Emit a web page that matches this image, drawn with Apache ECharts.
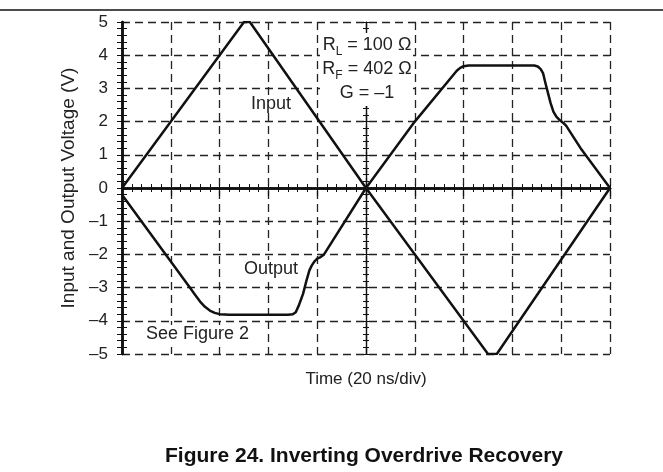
<!DOCTYPE html>
<html>
<head>
<meta charset="utf-8">
<script src="https://cdn.jsdelivr.net/npm/echarts@6/dist/echarts.min.js"></script>
<style>
  html, body { margin: 0; padding: 0; background: #fff; }
  #main { width: 663px; height: 472px; }
</style>
</head>
<body>
<div id="main"></div>
<script>
// time in divisions (20 ns/div), voltage in V
var inputTime = [0, 2.5, 2.62, 5, 7.5, 7.68, 10];
var inputVolt = [0, 5, 5, 0, -5, -5, 0];

var outputTime = [0, 1.39, 1.5, 1.6, 1.7, 1.8, 1.9, 2.0, 2.2, 3.4, 3.5, 3.56, 3.62, 3.67, 3.71, 3.78, 3.84, 3.89, 3.95, 4.0, 4.07, 4.14, 5,
  6, 6.86, 6.93, 7.0, 7.1, 8.45, 8.52, 8.58, 8.63, 8.67, 8.71, 8.78, 8.84, 8.9, 8.98, 9.05, 9.1, 9.42, 10];
var outputVolt = [-0.2, -3.0, -3.22, -3.42, -3.58, -3.69, -3.76, -3.8, -3.82, -3.82, -3.8, -3.74, -3.55, -3.35, -3.19, -2.79, -2.48, -2.33, -2.2, -2.13, -2.08, -2.0, 0,
  2, 3.53, 3.62, 3.67, 3.69, 3.69, 3.66, 3.58, 3.45, 3.2, 2.97, 2.57, 2.3, 2.15, 2.03, 1.95, 1.88, 1.15, 0];

var timeRange = [0, 10];
var voltRange = [-5, 5];
var crossRange = [-5, 5];

function pairs(xs, ys) {
  return xs.map(function (x, i) { return [x, ys[i]]; });
}
function dashLabel(v) {
  return v < 0 ? "\u2013" + Math.abs(v) : String(v);
}

var ink = "#111";
var txt = "#222";
var font = "Liberation Sans, Arial, sans-serif";
var gridBox = { left: 122, top: 22, width: 488, height: 332 };
var dashed = { color: "#222", width: 1.3, type: [8, 5] };

// axis that only draws fine ticks (every 0.2 div / 0.2 V)
function tickAxis(grid, pos, range, opts) {
  return Object.assign({
    gridIndex: grid, type: "value", position: pos,
    min: range[0], max: range[1], interval: 0.2,
    axisLine: { show: false },
    axisTick: { show: true, inside: true, length: 4, lineStyle: { color: ink, width: 1 } },
    axisLabel: { show: false },
    splitLine: { show: false }
  }, opts || {});
}

var chart = echarts.init(document.getElementById("main"));
chart.setOption({
  animation: false,
  grid: [0, 1, 2, 3, 4].map(function () { return Object.assign({}, gridBox); }),
  xAxis: [
    {
      // bottom frame: major ticks outward, dashed grid
      gridIndex: 0, type: "value", position: "bottom",
      min: timeRange[0], max: timeRange[1], interval: 1,
      axisLine: { lineStyle: { color: ink, width: 2.5 } },
      axisTick: { show: true, length: 8, lineStyle: { color: ink, width: 1.2 } },
      axisLabel: { show: false },
      splitLine: { show: true, lineStyle: dashed },
      name: "Time (20 ns/div)", nameLocation: "middle", nameGap: 17,
      nameTextStyle: { color: txt, fontSize: 17, fontFamily: font }
    },
    tickAxis(1, "top", timeRange, { axisLine: { lineStyle: { color: ink, width: 2.5 } } }),
    tickAxis(2, "bottom", timeRange),
    tickAxis(3, "bottom", crossRange, {
      axisLine: { onZero: true, lineStyle: { color: ink, width: 1.2 } },
      axisTick: { show: true, inside: true, length: 3, lineStyle: { color: ink, width: 1 } }
    }),
    tickAxis(4, "bottom", crossRange, {
      axisLine: { onZero: true, lineStyle: { color: ink, width: 1.2 } },
      axisTick: { show: true, inside: false, length: 3, lineStyle: { color: ink, width: 1 } }
    })
  ],
  yAxis: [
    {
      gridIndex: 0, type: "value", position: "left",
      min: voltRange[0], max: voltRange[1], interval: 1,
      axisLine: { lineStyle: { color: ink, width: 2.5 } },
      axisTick: { show: false },
      axisLabel: { color: txt, fontSize: 17, fontFamily: font, margin: 14, formatter: dashLabel },
      splitLine: { show: true, lineStyle: dashed },
      name: "Input and Output Voltage (V)", nameLocation: "middle", nameGap: 33,
      nameTextStyle: { color: txt, fontSize: 19, fontFamily: font }
    },
    tickAxis(1, "right", voltRange, {
      axisLine: { lineStyle: { color: ink, width: 2.5 } },
      axisTick: { show: true, inside: true, length: 5, lineStyle: { color: ink, width: 1 } }
    }),
    tickAxis(2, "left", voltRange, {
      axisTick: { show: true, inside: true, length: 5, lineStyle: { color: ink, width: 1 } }
    }),
    tickAxis(3, "left", crossRange, {
      axisLine: { onZero: true, lineStyle: { color: ink, width: 1.2 } },
      axisTick: { show: true, inside: true, length: 3, lineStyle: { color: ink, width: 1 } }
    }),
    tickAxis(4, "left", crossRange, {
      axisLine: { onZero: true, lineStyle: { color: ink, width: 1.2 } },
      axisTick: { show: true, inside: false, length: 3, lineStyle: { color: ink, width: 1 } }
    })
  ],
  series: [
    {
      name: "Input", type: "line", xAxisIndex: 0, yAxisIndex: 0,
      data: pairs(inputTime, inputVolt),
      showSymbol: false, z: 5,
      lineStyle: { color: ink, width: 2.5 }
    },
    {
      name: "Output", type: "line", xAxisIndex: 0, yAxisIndex: 0,
      data: pairs(outputTime, outputVolt),
      showSymbol: false, z: 5,
      lineStyle: { color: ink, width: 2.5, join: "round" }
    }
  ],
  graphic: [
    { type: "line", shape: { x1: 0, y1: 10, x2: 663, y2: 10 }, style: { stroke: ink, lineWidth: 1.5 } },
    { type: "rect", shape: { x: 320, y: 33, width: 93, height: 73 }, style: { fill: "#fff" }, z: 10 },
    {
      type: "text", x: 367, y: 45, z: 11,
      style: {
        text: "R{s|L} = 100 \u03a9", align: "center", verticalAlign: "middle",
        fill: txt, font: "18px " + font,
        rich: { s: { fontSize: 12, fontFamily: font, fill: txt, verticalAlign: "bottom", lineHeight: 25 } }
      }
    },
    {
      type: "text", x: 367, y: 69, z: 11,
      style: {
        text: "R{s|F} = 402 \u03a9", align: "center", verticalAlign: "middle",
        fill: txt, font: "18px " + font,
        rich: { s: { fontSize: 12, fontFamily: font, fill: txt, verticalAlign: "bottom", lineHeight: 25 } }
      }
    },
    {
      type: "text", x: 367, y: 93, z: 11,
      style: { text: "G = \u20131", align: "center", verticalAlign: "middle", fill: txt, font: "18px " + font }
    },
    {
      type: "text", x: 249, y: 104, z: 11,
      style: { text: "Input", verticalAlign: "middle", fill: txt, font: "18px " + font, backgroundColor: "#fff", padding: [0, 2] }
    },
    {
      type: "text", x: 242, y: 269, z: 11,
      style: { text: "Output", verticalAlign: "middle", fill: txt, font: "18px " + font, backgroundColor: "#fff", padding: [0, 2] }
    },
    {
      type: "text", x: 144, y: 334, z: 11,
      style: { text: "See Figure 2", verticalAlign: "middle", fill: txt, font: "18px " + font, backgroundColor: "#fff", padding: [0, 2] }
    },
    {
      type: "text", x: 364, y: 456,
      style: { text: "Figure 24. Inverting Overdrive Recovery", align: "center", verticalAlign: "middle", fill: ink, font: "bold 21px " + font }
    }
  ]
});
</script>
</body>
</html>
